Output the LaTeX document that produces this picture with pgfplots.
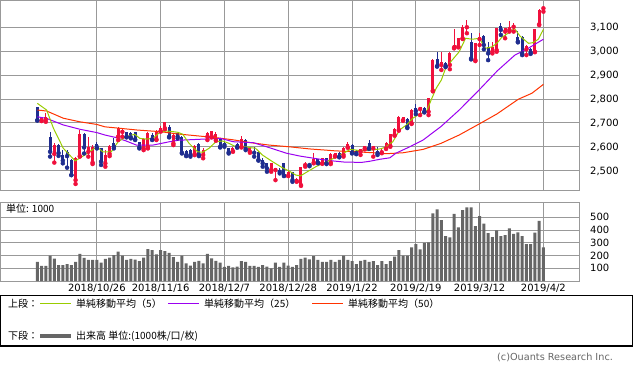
\documentclass[border=0pt]{standalone}
\usepackage{fontspec}
\setmainfont{DejaVu Sans}
\newfontfamily\jp{Noto Sans CJK JP}
\usepackage{pgfplots}
\pgfplotsset{compat=1.18}
\usepackage{pgfplotstable}
\definecolor{upc}{HTML}{F0103C}
\definecolor{dnc}{HTML}{1F2D8F}
\definecolor{ma5}{HTML}{99CC00}
\definecolor{ma25}{HTML}{9B00F0}
\definecolor{ma50}{HTML}{FF3300}
\definecolor{gridc}{HTML}{999999}
\definecolor{volc}{HTML}{666666}

\pgfplotstableread{
i O H L C
1 2710 2726 2708 2724
2 2715 2742 2705 2725
4 2571 2615 2535 2608
9 2462 2560 2446 2553
10 2562 2671 2560 2654
12 2580 2642 2560 2602
13 2535 2608 2529 2601
16 2532 2588 2518 2566
17 2571 2608 2562 2606
19 2643 2685 2629 2678
20 2663 2678 2643 2672
25 2594 2636 2587 2632
26 2601 2664 2594 2657
28 2632 2671 2629 2666
29 2666 2687 2664 2680
30 2678 2706 2674 2704
32 2615 2653 2608 2650
37 2571 2608 2566 2604
39 2567 2594 2553 2587
40 2643 2664 2629 2657
41 2643 2667 2640 2667
42 2629 2664 2626 2653
46 2583 2599 2580 2597
48 2601 2646 2598 2632
50 2580 2601 2576 2597
55 2504 2532 2497 2532
56 2504 2511 2462 2511
59 2480 2504 2479 2497
61 2458 2470 2455 2466
62 2441 2518 2438 2518
63 2525 2539 2518 2530
65 2535 2574 2532 2549
67 2532 2556 2530 2553
69 2535 2573 2529 2571
70 2563 2577 2560 2574
72 2567 2601 2560 2597
73 2599 2622 2597 2613
76 2581 2592 2567 2590
77 2594 2606 2590 2604
79 2594 2606 2560 2604
81 2578 2596 2574 2585
82 2594 2620 2592 2618
83 2604 2656 2601 2654
84 2650 2678 2647 2674
85 2671 2729 2668 2726
86 2712 2727 2709 2724
88 2699 2757 2696 2754
90 2758 2768 2733 2765
92 2747 2806 2733 2803
93 2835 2965 2832 2962
95 2942 2997 2921 2956
97 2942 2997 2924 2990
98 3015 3093 3011 3025
99 3018 3056 3015 3053
100 3053 3108 3050 3101
101 3099 3129 3074 3104
103 2962 3035 2958 3032
104 3049 3074 3025 3057
107 2997 3039 2990 3018
108 3004 3097 2997 3094
110 3081 3097 3053 3094
111 3088 3126 3081 3101
112 3101 3115 3081 3106
115 3007 3024 2983 3021
117 2997 3093 2995 3090
118 3111 3174 3108 3171
119 3178 3188 3164 3183
}\up

\pgfplotstableread{
i O H L C
0 2767 2768 2710 2712
3 2643 2664 2560 2580
5 2608 2612 2563 2575
6 2567 2588 2532 2543
7 2580 2588 2514 2562
8 2546 2548 2483 2483
11 2654 2659 2573 2598
14 2612 2622 2594 2600
15 2594 2597 2525 2539
18 2615 2636 2594 2601
21 2661 2664 2640 2643
22 2657 2664 2636 2640
23 2661 2664 2629 2632
24 2620 2622 2594 2599
27 2650 2657 2629 2632
31 2682 2692 2640 2643
33 2657 2660 2636 2643
34 2643 2646 2573 2576
35 2583 2587 2562 2566
36 2587 2592 2560 2567
38 2612 2618 2562 2567
43 2632 2636 2598 2601
44 2615 2622 2601 2608
45 2594 2597 2573 2578
47 2611 2615 2597 2601
49 2629 2632 2587 2592
51 2580 2601 2560 2576
52 2580 2583 2543 2546
53 2546 2553 2518 2532
54 2532 2532 2497 2511
57 2504 2511 2490 2497
58 2532 2535 2479 2480
60 2497 2497 2455 2462
64 2530 2535 2520 2525
66 2549 2552 2532 2535
68 2553 2556 2529 2532
71 2576 2580 2557 2560
74 2608 2612 2573 2576
75 2585 2588 2570 2574
78 2618 2629 2592 2594
80 2585 2601 2567 2574
87 2715 2720 2679 2682
89 2761 2779 2737 2750
91 2761 2765 2744 2747
94 2965 2997 2935 2937
96 2951 2955 2933 2937
102 3039 3074 2965 2969
105 3062 3067 3007 3025
106 3018 3039 2962 2990
109 3104 3115 3067 3088
113 3060 3085 3036 3039
114 3060 3063 2983 2990
116 3007 3011 2988 2993
}\down

\pgfplotstableread{
i V
0 151
1 118
2 118
3 199
4 175
5 125
6 125
7 133
8 125
9 151
10 212
11 182
12 165
13 165
14 165
15 144
16 173
17 183
18 204
19 230
20 199
21 165
22 173
23 167
24 157
25 183
26 251
27 243
28 209
29 243
30 235
31 220
32 188
33 151
34 199
35 139
36 120
37 151
38 159
39 139
40 212
41 178
42 159
43 144
44 110
45 118
46 107
47 112
48 157
49 151
50 118
51 118
52 110
53 125
54 112
55 99
56 144
57 110
58 144
59 120
60 110
61 125
62 173
63 183
64 170
65 196
66 165
67 151
68 151
69 165
70 151
71 165
72 199
73 165
74 157
75 133
76 159
77 165
78 151
79 157
80 125
81 157
82 133
83 157
84 191
85 243
86 199
87 199
88 264
89 290
90 248
91 300
92 303
93 531
94 562
95 478
96 353
97 343
98 526
99 421
100 557
101 578
102 578
103 431
104 510
105 450
106 376
107 345
108 398
109 353
110 361
111 413
112 369
113 382
114 353
115 290
116 290
117 379
118 472
119 264
}\vol

\pgfplotsset{chartax/.style={
  scale only axis, width=579pt,
  xmin=-8.77, xmax=127.37,
  axis line style={gridc, line width=1pt},
  grid=major, grid style={gridc, line width=1pt},
  major tick length=0pt,
  xtick={14,29,44,59,74,89,104,119},
  yticklabel pos=right,
  tick label style={font=\fontsize{10}{12}\selectfont},
  yticklabel style={anchor=west, inner sep=0pt},
  yticklabel shift=11pt,
  /pgf/number format/assume math mode=true,
}}

\begin{document}
\begin{tikzpicture}
\useasboundingbox (0,0) rectangle (634pt,-370pt);
% upper panel
\begin{axis}[chartax, at={(0pt,0pt)}, anchor=north west, height=190.7pt,
  ymin=2417.9, ymax=3212.5, ytick={2500,2600,...,3100},
  xticklabels={},
  /pgf/number format/1000 sep={,}]
% wicks
\addplot[upc, only marks, mark=none, error bars/.cd, y dir=plus, y explicit, error mark=none, error bar style={line width=1pt}]
  table[x=i, y=L, y error plus expr=\thisrow{H}-\thisrow{L}] {\up};
\addplot[dnc, only marks, mark=none, error bars/.cd, y dir=plus, y explicit, error mark=none, error bar style={line width=1pt}]
  table[x=i, y=L, y error plus expr=\thisrow{H}-\thisrow{L}] {\down};
% bodies
\addplot[upc, only marks, mark=none, error bars/.cd, y dir=plus, y explicit, error mark=none, error bar style={line width=3pt}]
  table[x=i, y=O, y error plus expr=\thisrow{C}-\thisrow{O}] {\up};
\addplot[dnc, only marks, mark=none, error bars/.cd, y dir=plus, y explicit, error mark=none, error bar style={line width=3pt}]
  table[x=i, y=C, y error plus expr=\thisrow{O}-\thisrow{C}] {\down};
% moving averages
\addplot[ma50, line width=1pt, mark=none] coordinates {
(0,2754) (2.2,2750) (6.1,2720) (10,2705) (14,2694) (15.9,2684) (19.4,2678) (23.3,2671) (26.4,2667) (29,2664) (32.6,2655) (37.3,2647) (42,2639) (46,2630) (50.2,2618) (54.5,2608) (59.2,2601) (64,2592) (67.8,2587) (70,2584) (75,2580) (79,2576) (82,2572) (86,2576) (90.7,2590) (94.9,2615) (99.2,2650) (103.9,2696) (108.1,2738) (113.1,2799) (116.3,2824) (119,2861)};
\addplot[ma25, line width=1pt, mark=none] coordinates {
(0,2726) (2.2,2719) (6.1,2692) (10,2674) (14,2660) (15.9,2650) (18.6,2639) (20.9,2625) (23.3,2608) (27.2,2608) (31.1,2622) (33.1,2628) (38,2632) (43,2636) (46.1,2622) (50.8,2618) (53.9,2601) (58.6,2574) (61.8,2562) (66.5,2549) (69.5,2542) (72.3,2537) (76.3,2536) (78,2540) (80.6,2549) (82.9,2555) (84.3,2574) (87.6,2601) (90.7,2629) (94.9,2685) (99.2,2754) (103.9,2838) (108.2,2918) (112.3,2983) (115.4,3011) (119,3049)};
\addplot[ma5, line width=1pt, mark=none] coordinates {
(0,2782) (2.2,2754) (3.8,2678) (6.1,2595) (8.9,2542) (11.2,2567) (14,2601) (15.4,2580) (17.4,2580) (19,2622) (20.9,2643) (22.9,2653) (24.1,2636) (25.6,2633) (27.2,2636) (28.8,2661) (30.3,2667) (31.9,2664) (33.1,2661) (34.2,2653) (35.7,2615) (37.7,2580) (38.9,2578) (40.4,2595) (42,2622) (43.6,2625) (45.1,2615) (46.7,2601) (49.1,2601) (50.2,2597) (51.3,2595) (52.9,2567) (55.3,2539) (57.6,2514) (59.2,2500) (60.8,2483) (61.9,2480) (63.5,2497) (65.5,2518) (68.1,2539) (70.5,2560) (72,2574) (73.6,2590) (75.9,2585) (78.3,2587) (80.6,2592) (81.8,2599) (83.6,2622) (85.2,2671) (86.8,2692) (88.3,2720) (89.9,2738) (91.5,2747) (92.6,2796) (93.8,2845) (95,2879) (96,2928) (97.2,2955) (99.2,2997) (100.7,3053) (102.3,3049) (103.9,3053) (105.4,3011) (107,3018) (108.2,3035) (109.2,3057) (110.7,3074) (112.2,3094) (113.5,3062) (115.5,3032) (116.6,3035) (117.8,3049) (119,3090)};
\end{axis}
% volume panel
\begin{axis}[chartax, at={(0pt,-202pt)}, anchor=north west, height=79pt,
  ymin=0, ymax=620, ytick={100,200,...,500},
  xticklabels={2018/10/26,2018/11/16,2018/12/7,2018/12/28,2019/1/22,2019/2/19,2019/3/12,2019/4/2},
  xticklabel style={anchor=north, inner sep=0pt},
  xticklabel shift=3pt]
\addplot[ybar, bar width=3pt, fill=volc, draw=none] table[x=i, y=V] {\vol};
\end{axis}
\node[anchor=west, inner sep=0pt, font=\jp\fontsize{10}{12}\selectfont] at (6pt,-209pt) {単位: 1000};
% legend
\draw[black, line width=1.3pt] (0.65pt,-295.5pt) rectangle (632.35pt,-346pt);
\begin{scope}[every node/.style={anchor=west, inner sep=0pt, font=\jp\fontsize{10}{12}\selectfont}]
\node at (8pt,-303.3pt) {上段：};
\draw[ma5, line width=1pt] (40pt,-303.3pt) -- (71pt,-303.3pt);
\node at (76pt,-303.3pt) {単純移動平均（5）};
\draw[ma25, line width=1pt] (168pt,-303.3pt) -- (199pt,-303.3pt);
\node at (204pt,-303.3pt) {単純移動平均（25）};
\draw[ma50, line width=1pt] (312pt,-303.3pt) -- (343pt,-303.3pt);
\node at (348pt,-303.3pt) {単純移動平均（50）};
\node at (8pt,-336pt) {下段：};
\draw[volc, line width=3.5pt] (40pt,-336pt) -- (71pt,-336pt);
\node at (76pt,-336pt) {出来高 単位:(1000株/口/枚)};
\end{scope}
\node[anchor=west, inner sep=0pt, text=volc, font=\fontsize{9.7}{12}\selectfont] at (497pt,-357.7pt) {(c)Ouants Research Inc.};
\end{tikzpicture}
\end{document}
